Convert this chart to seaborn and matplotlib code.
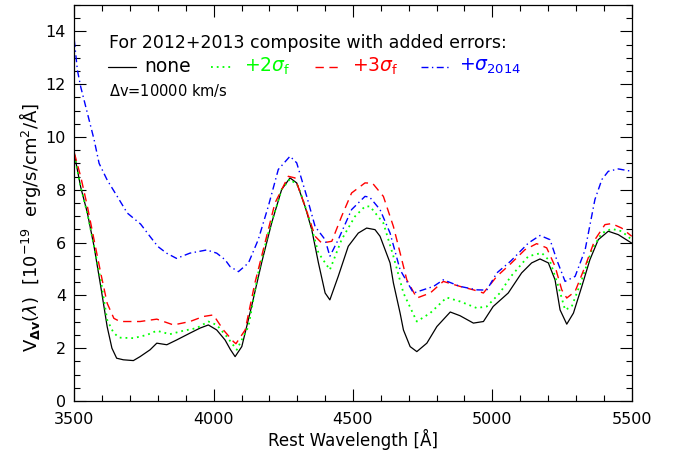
# Espectro composto 2012+2013 com erros adicionados
import numpy as np
import pandas as pd
import matplotlib
matplotlib.use("Agg")
import matplotlib.pyplot as plt
from matplotlib.ticker import MultipleLocator
import seaborn as sns

# ---- dados ----
wl_none = [3500, 3523, 3547, 3571, 3595, 3618, 3635, 3652, 3676, 3712, 3736, 3772, 3796, 3832, 3867,
           3915, 3951, 3981, 4011, 4041, 4060, 4077, 4101, 4136, 4172, 4208, 4244, 4274, 4298,
           4328, 4352, 4376, 4400, 4417, 4447, 4483, 4519, 4549, 4579, 4597, 4633, 4645, 4669,
           4681, 4705, 4729, 4765, 4801, 4849, 4884, 4932, 4968, 5003, 5057, 5105, 5141, 5171,
           5201, 5225, 5243, 5267, 5291, 5321, 5350, 5380, 5416, 5452, 5500]
v_none = [9.36, 8.1, 7.12, 5.85, 4.33, 2.81, 2.0, 1.62, 1.56, 1.53, 1.68, 1.94, 2.19, 2.13, 2.31,
          2.57, 2.76, 2.88, 2.69, 2.31, 1.95, 1.68, 2.06, 3.58, 5.23, 6.74, 8.01, 8.45, 8.26,
          7.37, 6.49, 5.23, 4.09, 3.83, 4.72, 5.86, 6.36, 6.55, 6.49, 6.24, 5.23, 4.47, 3.33,
          2.69, 2.06, 1.87, 2.19, 2.82, 3.37, 3.23, 2.95, 3.01, 3.58, 4.09, 4.85, 5.23, 5.38,
          5.23, 4.59, 3.45, 2.91, 3.33, 4.34, 5.35, 6.11, 6.43, 6.3, 5.98]

wl_2sf = [3500, 3523, 3547, 3571, 3595, 3618, 3640, 3660, 3712, 3760, 3796, 3843, 3891, 3939,
          3981, 4011, 4047, 4083, 4125, 4160, 4196, 4244, 4274, 4304, 4340, 4376, 4417, 4459,
          4507, 4543, 4561, 4609, 4645, 4681, 4729, 4777, 4836, 4884, 4944, 4980, 5027, 5065,
          5129, 5177, 5207, 5237, 5261, 5285, 5321, 5357, 5393, 5428, 5464, 5500]
v_2sf = [9.32, 8.1, 7.1, 5.85, 4.58, 3.07, 2.6, 2.4, 2.38, 2.5, 2.66, 2.53, 2.66, 2.76,
         3.01, 2.88, 2.44, 1.94, 2.82, 4.85, 6.36, 8.01, 8.41, 8.13, 6.99, 5.61, 4.97, 6.11,
         6.99, 7.37, 7.37, 6.74, 5.48, 4.09, 3.01, 3.33, 3.92, 3.77, 3.52, 3.58, 4.09, 4.7,
         5.48, 5.61, 5.29, 4.34, 3.45, 3.58, 4.59, 5.73, 6.36, 6.52, 6.43, 6.11]

wl_3sf = [3500, 3523, 3547, 3571, 3595, 3618, 3642, 3664, 3736, 3796, 3856, 3915, 3963, 3999, 4035,
          4071, 4080, 4113, 4148, 4184, 4220, 4268, 4292, 4328, 4364, 4388, 4424, 4459, 4495,
          4543, 4570, 4609, 4645, 4669, 4693, 4729, 4777, 4824, 4884, 4932, 4968, 5016, 5066,
          5117, 5159, 5195, 5225, 5249, 5267, 5297, 5333, 5368, 5404, 5428, 5464, 5500]
v_3sf = [9.4, 8.5, 7.37, 6.1, 4.84, 3.7, 3.13, 3.01, 3.01, 3.1, 2.88, 3.01, 3.2, 3.26, 2.69,
         2.25, 2.17, 2.69, 4.47, 5.98, 7.5, 8.51, 8.45, 7.37, 6.24, 5.98, 6.05, 6.99, 7.88,
         8.26, 8.25, 7.75, 6.61, 5.61, 4.59, 3.9, 4.09, 4.53, 4.34, 4.21, 4.09, 4.72, 5.2,
         5.73, 5.96, 5.8, 5.1, 4.21, 3.9, 4.15, 5.1, 6.11, 6.68, 6.72, 6.55, 6.24]

wl_2014 = [3500, 3511, 3523, 3547, 3571, 3589, 3618, 3654, 3690, 3738, 3774, 3800, 3831, 3867, 3915,
           3975, 4011, 4041, 4059, 4089, 4125, 4160, 4196, 4232, 4274, 4298, 4334, 4364, 4400,
           4417, 4447, 4495, 4543, 4560, 4597, 4633, 4669, 4717, 4789, 4824, 4884, 4944, 4980,
           5016, 5066, 5129, 5171, 5207, 5231, 5261, 5297, 5333, 5368, 5393, 5416, 5452, 5500]
v_2014 = [13.67, 12.54, 11.9, 10.9, 9.9, 9.0, 8.37, 7.75, 7.12, 6.7, 6.2, 5.85, 5.6, 5.4, 5.6,
          5.72, 5.6, 5.35, 5.09, 4.9, 5.23, 6.11, 7.37, 8.77, 9.27, 9.02, 7.75, 6.61, 6.11,
          5.48, 6.11, 7.25, 7.75, 7.72, 7.25, 6.36, 4.97, 4.09, 4.34, 4.59, 4.34, 4.21, 4.2,
          4.85, 5.3, 5.98, 6.27, 6.11, 5.35, 4.53, 4.72, 5.73, 7.63, 8.39, 8.7, 8.79, 8.7]

x_ticks = [3500, 4000, 4500, 5000, 5500]
y_ticks = [0, 2, 4, 6, 8, 10, 12, 14]

sns.set_style("ticks")
plt.rcParams['font.family'] = ['DejaVu Sans']
plt.rcParams['mathtext.fontset'] = 'dejavusans'
for k in ['text.color', 'axes.labelcolor', 'xtick.color', 'ytick.color', 'axes.edgecolor']:
    plt.rcParams[k] = 'black'

fig = plt.figure(figsize=(6.81, 4.58), dpi=100)
ax = fig.add_axes([0.1091, 0.1245, 0.8185, 0.8646])

lw = 0.9
green_ls = (0, (1, 2.2))
red_ls = (0, (6, 4))
blue_ls = (0, (5, 2.5, 1, 2.5))
sns.lineplot(x=wl_none, y=v_none, color='black', lw=lw, ax=ax, sort=False)
sns.lineplot(x=wl_2sf, y=v_2sf, color='#00ff00', lw=1.3, ax=ax, sort=False, linestyle=green_ls)
sns.lineplot(x=wl_3sf, y=v_3sf, color='red', lw=1.0, ax=ax, sort=False, linestyle=red_ls)
sns.lineplot(x=wl_2014, y=v_2014, color='blue', lw=1.0, ax=ax, sort=False, linestyle=blue_ls)

ax.set_xlim(3500, 5500)
ax.set_ylim(0, 15)
ax.set_xticks(x_ticks)
ax.set_yticks(y_ticks)
ax.xaxis.set_minor_locator(MultipleLocator(100))
ax.yaxis.set_minor_locator(MultipleLocator(0.5))
ax.tick_params(which='both', direction='in', top=True, right=True, labelsize=11.5, width=0.8,
               color='black', labelcolor='black')
ax.tick_params(which='major', length=8.5, pad=6)
ax.tick_params(axis='x', which='major', pad=8)
ax.tick_params(which='minor', length=4.3)
for s in ax.spines.values():
    s.set_linewidth(0.9)
    s.set_color('black')

ax.set_xlabel('Rest Wavelength [Å]', fontsize=12, labelpad=1)
ax.set_ylabel(r'V$_{\mathbf{\Delta v}}$($\lambda$)  [10$^{-19}$  erg/s/cm$^2$/Å]', fontsize=13)
ax.yaxis.set_label_coords(-0.056, 0.438)

# legenda escrita como texto (estilo IDL)
y_leg = 12.66
ax.text(0.062, 0.905, 'For 2012+2013 composite with added errors:', transform=ax.transAxes,
        fontsize=12.5, va='center', ha='left')
ax.plot([3620, 3720], [y_leg, y_leg], color='black', lw=lw)
ax.text(3752, y_leg, 'none', fontsize=13.5, va='center', ha='left')
ax.plot([3990, 4065], [y_leg, y_leg], color='#00ff00', lw=1.3, linestyle=green_ls)
ax.text(4110, y_leg, r'+2$\sigma_{\mathrm{f}}$', fontsize=13.5, va='center', ha='left', color='#00ff00')
ax.plot([4365, 4450], [y_leg, y_leg], color='red', lw=1.0, linestyle=red_ls)
ax.text(4495, y_leg, r'+3$\sigma_{\mathrm{f}}$', fontsize=13.5, va='center', ha='left', color='red')
ax.plot([4745, 4845], [y_leg, y_leg], color='blue', lw=1.0, linestyle=blue_ls)
ax.text(4880, y_leg, r'+$\sigma_{2014}$', fontsize=13.5, va='center', ha='left', color='blue')
ax.text(0.062, 0.785, r'$\Delta$v=10000 km/s', transform=ax.transAxes,
        fontsize=10.5, va='center', ha='left')

fig.savefig('out.png', dpi=100)
